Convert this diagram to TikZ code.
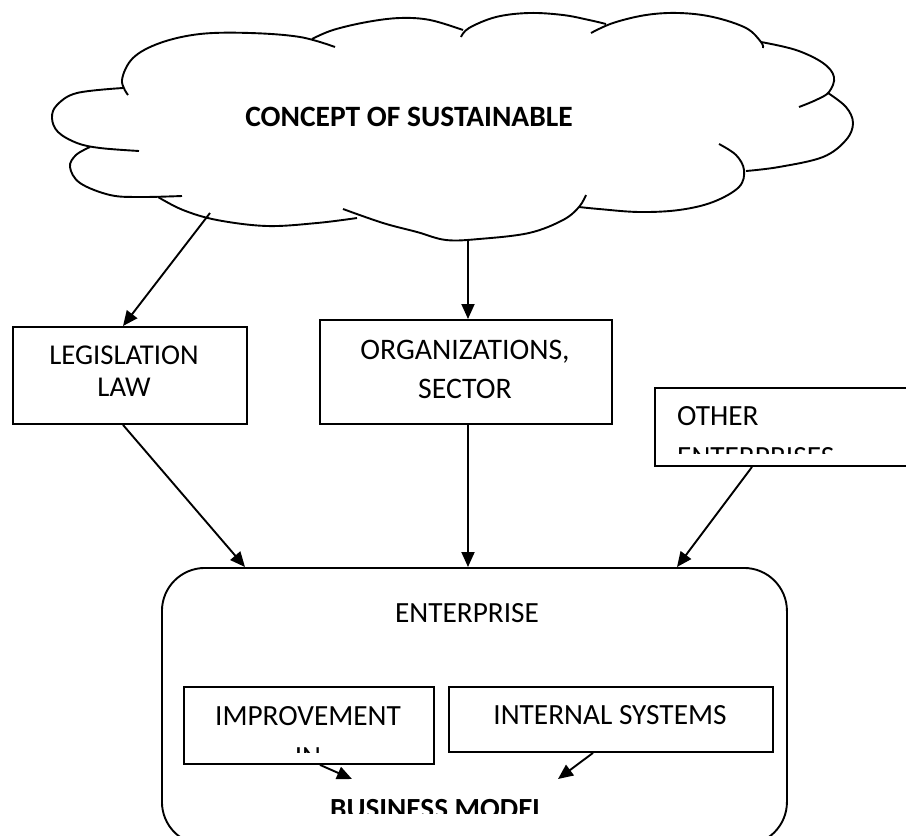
\documentclass[tikz,border=0pt]{standalone}
\usepackage{fontspec}
\setmainfont{Carlito}
\usetikzlibrary{arrows.meta,calc}
\begin{document}
\begin{tikzpicture}[x=1pt,y=-1pt,
  box/.style={draw, line width=1.9pt, inner sep=0pt, anchor=north west},
  txt/.style={font=\fontsize{29.3}{41}\selectfont, align=center, inner sep=0pt},
  btxt/.style={font=\fontsize{29.2}{34}\selectfont\bfseries, inner sep=0pt},
  arr/.style={-{Triangle[length=15pt,width=13pt]}, line width=1.9pt},
  lobe/.style={line width=1.9pt}]
\clip (0,0) rectangle (906,836);
% cloud
\draw[lobe] plot[smooth, tension=0.6] coordinates {(128,95) (122,80) (133,58) (160,43) (200,34) (250,33) (300,37) (335,47)};
\draw[lobe] plot[smooth, tension=0.6] coordinates {(312,39) (333,30) (367,22) (400,18) (430,20) (463,30)};
\draw[lobe] plot[smooth, tension=0.6] coordinates {(461,37) (469,28) (496,17) (529,13) (563,15) (589,20) (606,24)};
\draw[lobe] plot[smooth, tension=0.6] coordinates {(591,33) (613,23) (646,15) (679,13) (713,17) (746,28) (761,42) (763,48)};
\draw[lobe] plot[smooth, tension=0.6] coordinates {(761,42) (796,50) (823,63) (834,77) (829,92) (816,100) (799,107)};
\draw[lobe] plot[smooth, tension=0.6] coordinates {(828,93) (846,107) (853,123) (846,140) (823,157) (779,167) (746,171)};
\draw[lobe] plot[smooth, tension=0.6] coordinates {(719,144) (736,155) (744,170) (739,187) (713,202) (679,210) (639,212) (599,209) (579,207)};
\draw[lobe] plot[smooth, tension=0.6] coordinates {(586,195) (579,207) (563,220) (529,233) (479,239) (446,240) (417,232) (383,223) (343,209)};
\draw[lobe] plot[smooth, tension=0.6] coordinates {(357,218) (317,223) (267,226) (217,220) (183,210) (158,197)};
\draw[lobe] plot[smooth, tension=0.6] coordinates {(182,196) (140,197) (110,195) (80,183) (70,167) (76,155) (90,147)};
\draw[lobe] plot[smooth, tension=0.6] coordinates {(139,151) (100,148) (77,143) (58,132) (52,118) (57,105) (77,93) (123,88)};
\node[btxt, font=\fontsize{29.5}{34}\selectfont\bfseries] (cloud) at (409,117) {CONCEPT OF SUSTAINABLE};
\coordinate (c1) at (210,213);
\coordinate (c2) at (468,239);
% boxes
\node[box, minimum width=234pt, minimum height=97pt] (leg) at (12,326) {};
\node[box, minimum width=292pt, minimum height=104pt] (org) at (319,319) {};
\node[box, minimum width=262pt, minimum height=78pt] (oth) at (654,387) {};
\node[box, rounded corners=43pt, minimum width=625pt, minimum height=277pt] (ent) at (161,567) {};
\node[box, minimum width=250pt, minimum height=77pt] (imp) at (183,686) {};
\node[box, minimum width=324pt, minimum height=65pt] (int) at (448,686) {};
% texts
\node[txt, font=\fontsize{28.7}{32}\selectfont] (legt) at (124,371) {LEGISLATION\\LAW};
\node[txt, font=\fontsize{29.8}{39}\selectfont] (orgt) at (465,369.5) {ORGANIZATIONS,\\SECTOR};
\begin{scope}
\clip (654,387) rectangle (906,453);
\node[txt, align=left, anchor=west] (otht) at (677,436.5) {OTHER\\ENTERPRISES};
\end{scope}
\node[txt] (entt) at (467,613) {ENTERPRISE};
\begin{scope}
\clip (183,686) rectangle (433,752);
\node[txt] (impt) at (308,736.5) {IMPROVEMENT\\IN};
\end{scope}
\node[txt] (intt) at (610,715) {INTERNAL SYSTEMS};
\begin{scope}
\clip (300,780) rectangle (600,813);
\node[btxt] (bm) at (437.5,809) {BUSINESS MODEL};
\end{scope}
\coordinate (bm1) at (352,779);
\coordinate (bm2) at (558,779);
% arrows
\draw[arr] (c1) -- ($(leg.north west)+(111,0)$);
\draw[arr] (c2) -- ($(org.north west)+(149,0)$);
\draw[arr] ($(leg.south west)+(111,0)$) -- ($(ent.north west)+(84,0)$);
\draw[arr] ($(org.south west)+(149,0)$) -- ($(ent.north west)+(307,0)$);
\draw[arr] ($(oth.south west)+(98,0)$) -- ($(ent.north west)+(516,0)$);
\draw[arr] ($(imp.south west)+(137,0)$) -- (bm1);
\draw[arr] ($(int.south west)+(145,0)$) -- (bm2);
\end{tikzpicture}
\end{document}
